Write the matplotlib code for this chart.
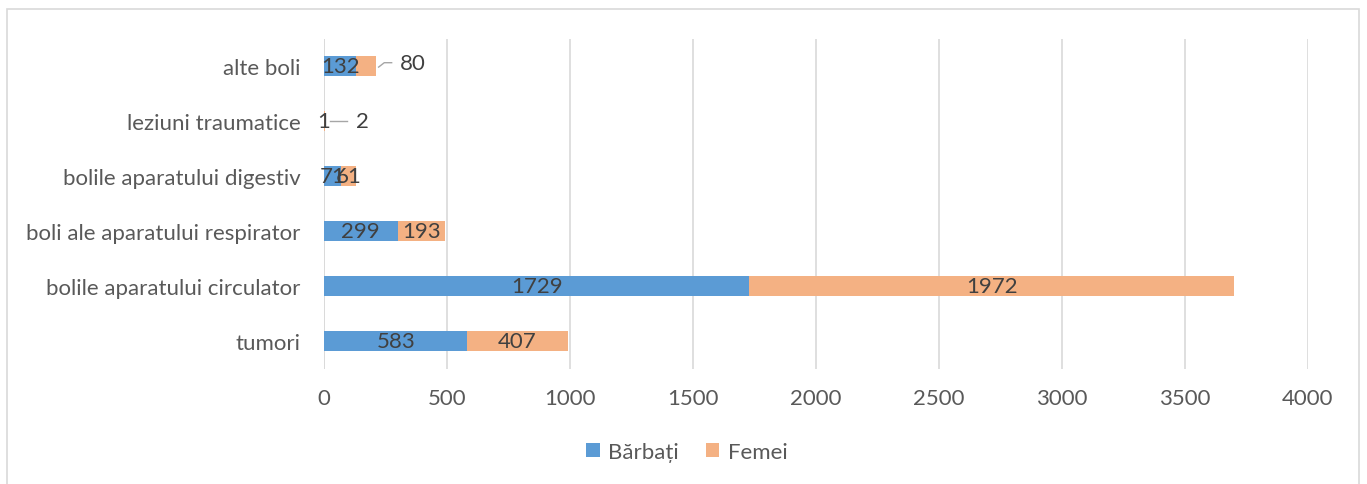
import numpy as np
import matplotlib.pyplot as plt
from matplotlib.patches import Rectangle

plt.rcParams['font.family'] = ['Lato', 'DejaVu Sans']

# Data
categories = ['tumori', 'bolile aparatului circulator', 'boli ale aparatului respirator',
              'bolile aparatului digestiv', 'leziuni traumatice', 'alte boli']
barbati = [583, 1729, 299, 71, 1, 132]
femei = [407, 1972, 193, 61, 2, 80]
xticks = [0, 500, 1000, 1500, 2000, 2500, 3000, 3500, 4000]

blue = '#5B9BD5'
orange = '#F4B183'
tick_col = '#595959'
lab_col = '#404040'
fs = 16

fig = plt.figure(figsize=(13.67, 4.85), dpi=100)
ax = fig.add_axes([324 / 1367, 1 - 369.5 / 485, 984 / 1367, 330 / 485])

y = np.arange(len(categories))
h = 0.38
ax.barh(y, barbati, height=h, color=blue, label='Bărbați', zorder=3)
ax.barh(y, femei, left=barbati, height=h, color=orange, label='Femei', zorder=3)

ax.set_xlim(0, 4000)
ax.set_ylim(-0.5, len(categories) - 0.5)
ax.set_xticks(xticks)
ax.set_yticks(y)
ax.set_yticklabels(categories)
ax.tick_params(axis='x', length=0, pad=14, labelsize=fs, colors=tick_col)
ax.tick_params(axis='y', length=0, pad=17, labelsize=fs, colors=tick_col)
ax.grid(axis='x', color='#D9D9D9', linewidth=1.2, zorder=0)
for s in ax.spines.values():
    s.set_visible(False)
ax.axvline(0, color='#D9D9D9', linewidth=1.2, zorder=1)

# data labels
for i in range(len(categories)):
    m, f = barbati[i], femei[i]
    if categories[i] == 'leziuni traumatice':
        ax.text(m / 2, i, str(m), ha='center', va='center', fontsize=fs, color=lab_col, zorder=5)
        ax.plot([25, 95], [i, i], color='#A6A6A6', lw=1, zorder=4)
        ax.text(155, i, str(f), ha='center', va='center', fontsize=fs, color=lab_col, zorder=5)
    elif categories[i] == 'alte boli':
        ax.text(m / 2, i, str(m), ha='center', va='center', fontsize=fs, color=lab_col, zorder=5)
        ax.plot([222, 245, 275], [i - 0.02, i + 0.06, i + 0.06], color='#A6A6A6', lw=1, zorder=4)
        ax.text(360, i + 0.06, str(f), ha='center', va='center', fontsize=fs, color=lab_col, zorder=5)
    else:
        ax.text(m / 2, i, str(m), ha='center', va='center', fontsize=fs, color=lab_col, zorder=5)
        ax.text(m + f / 2, i, str(f), ha='center', va='center', fontsize=fs, color=lab_col, zorder=5)

leg = fig.legend(loc='center', bbox_to_anchor=(687 / 1367, 1 - 453 / 485), ncol=2,
                 frameon=False, fontsize=fs, handlelength=0.6, handleheight=0.6,
                 handletextpad=0.4, columnspacing=1.2)
for t in leg.get_texts():
    t.set_color(tick_col)

# chart border (bottom edge falls outside the picture)
fig.patches.append(Rectangle((6.5 / 1367, -0.05), (1359 - 6.5) / 1367, 1.05 - 10 / 485,
                             transform=fig.transFigure, fill=False,
                             edgecolor='#D9D9D9', linewidth=1.2))

fig.savefig('out.png', dpi=100)
